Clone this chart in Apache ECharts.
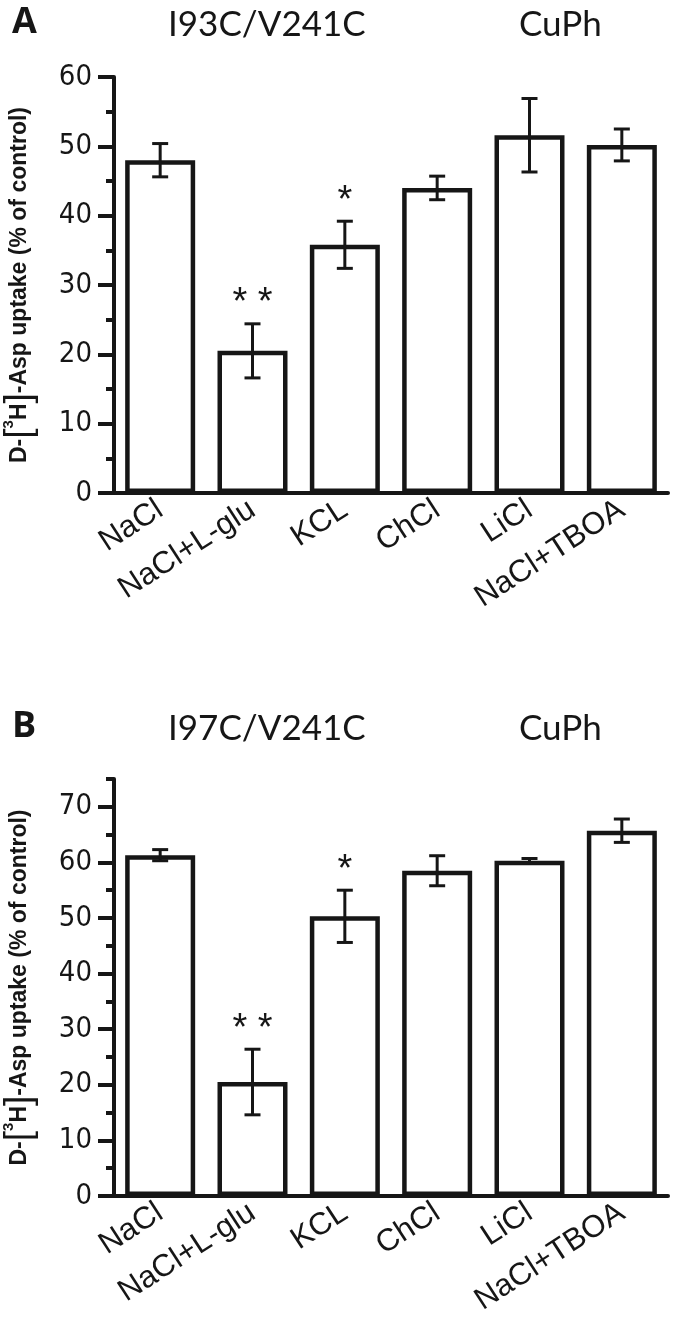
<!DOCTYPE html>
<html>
<head>
<meta charset="utf-8">
<script src="https://cdn.jsdelivr.net/npm/echarts@6/dist/echarts.min.js"></script>
<style>
  html, body { margin: 0; padding: 0; background: #fff; }
  #main { width: 675px; height: 1335px; }
</style>
</head>
<body>
<div id="main"></div>
<script>
// 数据
const categories = ['NaCl', 'NaCl+L-glu', 'KCL', 'ChCl', 'LiCl', 'NaCl+TBOA'];

const uptakeA = [48.0, 20.5, 35.8, 44.0, 51.6, 50.2];
const errorA = [2.4, 3.9, 3.4, 1.7, 5.3, 2.3];
const starsA = ['', '* *', '*', '', '', ''];

const uptakeB = [61.3, 20.5, 50.3, 58.5, 60.3, 65.7];
const errorB = [1.0, 5.9, 4.7, 2.7, 0.4, 2.1];
const starsB = ['', '* *', '*', '', '', ''];

const majorTicksA = [0, 10, 20, 30, 40, 50, 60];
const minorTicksA = [5, 15, 25, 35, 45, 55];
const majorTicksB = [0, 10, 20, 30, 40, 50, 60, 70];
const minorTicksB = [5, 15, 25, 35, 45, 55, 65, 75];

const ink = '#161616';
const sans = 'Liberation Sans, Arial, sans-serif';
const narrow = 'Liberation Sans Narrow, Arial Narrow, DejaVu Sans Condensed, Liberation Sans, sans-serif';

const yName = '{t|D-}{br|[}{sup|3}{t|H}{br|]}{t|-Asp uptake (% of control)}';
const yNameStyle = {
  rich: {
    t: { fontSize: 23, fontWeight: 'bold', fontFamily: sans, color: ink },
    br: { fontSize: 37, fontWeight: 'normal', fontFamily: sans, color: ink },
    sup: { fontSize: 15, fontWeight: 'bold', fontFamily: sans, color: ink, verticalAlign: 'top', padding: [0, 0, 10, 0] }
  }
};

function yAxes(grid, max, major, minor) {
  return [{
    type: 'value', gridIndex: grid, min: 0, max: max, position: 'left',
    axisLine: { show: true, lineStyle: { color: ink, width: 4 } },
    axisTick: { show: true, length: 16, lineStyle: { color: ink, width: 4 }, customValues: major },
    axisLabel: { customValues: major, margin: 22, fontSize: 29, color: ink, fontFamily: narrow },
    splitLine: { show: false },
    name: yName, nameLocation: 'middle', nameGap: 76, nameTextStyle: yNameStyle
  }, {
    type: 'value', gridIndex: grid, min: 0, max: max, position: 'left', offset: 0,
    axisLine: { show: false },
    axisTick: { show: true, length: 8, lineStyle: { color: ink, width: 4 }, customValues: minor },
    axisLabel: { show: false },
    splitLine: { show: false }
  }];
}

function xAxis(grid) {
  return {
    type: 'category', gridIndex: grid, data: categories,
    axisLine: { show: true, lineStyle: { color: ink, width: 4 } },
    axisTick: { show: false },
    axisLabel: { interval: 0, rotate: 33, margin: 14, fontSize: 31, color: ink, fontFamily: sans }
  };
}

function barSeries(grid, yIdx, values) {
  return {
    type: 'bar', xAxisIndex: grid, yAxisIndex: yIdx, data: values, barWidth: 70,
    itemStyle: { color: '#fff', borderColor: ink, borderWidth: 4.5 },
    silent: true
  };
}

function errorSeries(grid, yIdx, values, errors, stars) {
  return {
    type: 'custom', xAxisIndex: grid, yAxisIndex: yIdx, z: 5, silent: true,
    data: values.map((v, i) => [i, v, errors[i]]),
    renderItem: function (params, api) {
      const i = api.value(0), v = api.value(1), e = api.value(2);
      const top = api.coord([i, v + e]);
      const bot = api.coord([i, v - e]);
      const x = top[0], cap = 8;
      const line = { stroke: ink, lineWidth: 3 };
      const children = [
        { type: 'line', shape: { x1: x, y1: top[1], x2: x, y2: bot[1] }, style: line },
        { type: 'line', shape: { x1: x - cap, y1: top[1], x2: x + cap, y2: top[1] }, style: line },
        { type: 'line', shape: { x1: x - cap, y1: bot[1], x2: x + cap, y2: bot[1] }, style: line }
      ];
      const s = stars[params.dataIndex];
      if (s) {
        children.push({
          type: 'text', x: x, y: top[1] - 20,
          style: { text: s, fill: ink, fontSize: 38, fontFamily: sans, align: 'center', verticalAlign: 'middle' }
        });
      }
      return { type: 'group', children: children };
    }
  };
}

const titleFont = 'Lato, Open Sans, sans-serif';
function titles(top, letter, mutant) {
  return [
    { text: letter, left: 7, top: top - 2, textStyle: { fontFamily: 'Open Sans', fontWeight: 'bold', fontSize: 36, color: ink } },
    { text: mutant, left: 163, top: top, textStyle: { fontFamily: titleFont, fontWeight: 'normal', fontSize: 35, color: ink } },
    { text: 'CuPh', left: 514, top: top, textStyle: { fontFamily: titleFont, fontWeight: 'normal', fontSize: 35, color: ink } }
  ];
}

const chart = echarts.init(document.getElementById('main'));
chart.setOption({
  animation: false,
  backgroundColor: '#fff',
  title: titles(2, 'A', 'I93C/V241C').concat(titles(706, 'B', 'I97C/V241C')),
  grid: [
    { left: 114, right: 7, top: 77, height: 416, outerBoundsMode: 'none' },
    { left: 114, right: 7, top: 779, height: 417, outerBoundsMode: 'none' }
  ],
  xAxis: [xAxis(0), xAxis(1)],
  yAxis: yAxes(0, 60, majorTicksA, minorTicksA).concat(yAxes(1, 75, majorTicksB, minorTicksB)),
  series: [
    barSeries(0, 0, uptakeA),
    errorSeries(0, 0, uptakeA, errorA, starsA),
    barSeries(1, 2, uptakeB),
    errorSeries(1, 2, uptakeB, errorB, starsB)
  ]
});
</script>
</body>
</html>
